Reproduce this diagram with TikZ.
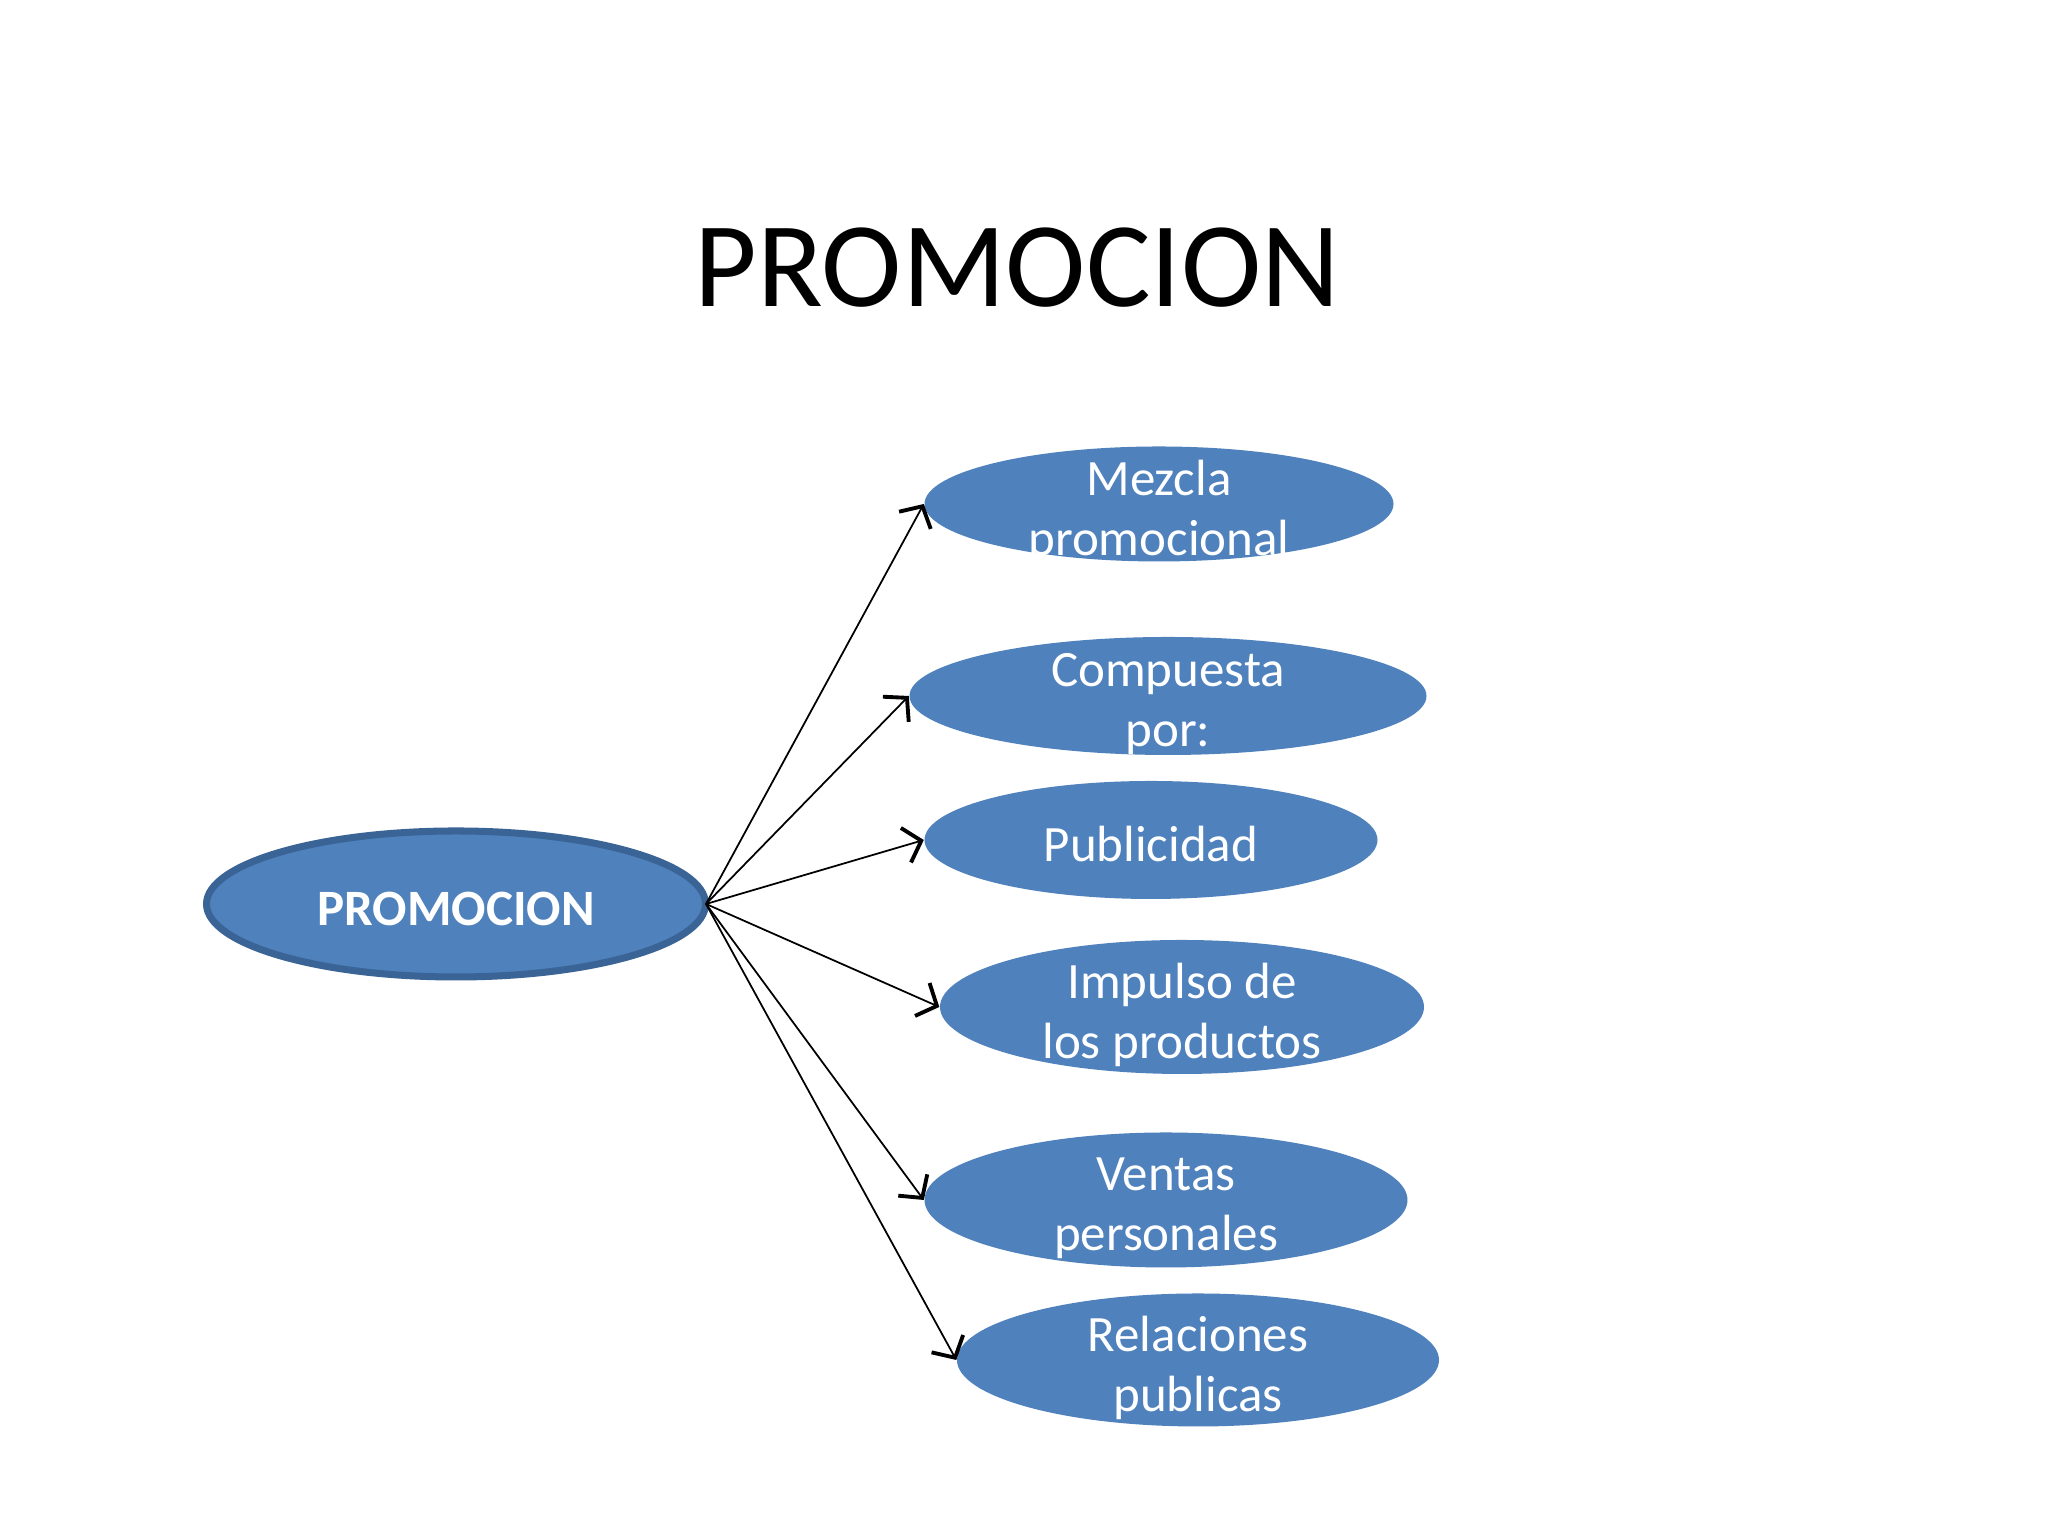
\documentclass[tikz,border=0pt]{standalone}
\usepackage{fontspec}
\setmainfont{Carlito}
\usepackage{xcolor}
\usepackage{tikz}
\usetikzlibrary{arrows.meta,shapes.geometric}
\definecolor{pblue}{HTML}{4F81BD}
\definecolor{pedge}{HTML}{3A6396}
\tikzset{
  hub/.style={ellipse, draw=pedge, line width=2pt, fill=pblue, inner sep=0pt,
              text=white, font=\fontsize{14.5}{17}\selectfont\bfseries},
  leaf/.style={ellipse, fill=pblue, inner sep=0pt},
  leaftext/.style={text=white, align=center, inner sep=0pt,
                   font=\fontsize{14.5}{17}\selectfont},
  flow/.style={-{Straight Barb[length=1.6mm,width=3.6mm,line width=1.1pt]},
               line width=0.5pt, draw=black}
}
\begin{document}
\begin{tikzpicture}
  \useasboundingbox[fill=white] (0,0) rectangle (20.48,15.36);
  \node[font=\fontsize{34.5}{40}\selectfont] (title) at (10.17,12.68) {PROMOCION};

  \node[hub, minimum width=4.99cm, minimum height=1.46cm] (promo) at (4.56,6.32) {};
  \node[text=white, font=\fontsize{14.5}{17}\selectfont\bfseries] (promo-t) at (4.56,6.27) {PROMOCION};

  \node[leaf, minimum width=4.69cm, minimum height=1.15cm] (mezcla)     at (11.59,10.32) {};
  \node[leaf, minimum width=5.17cm, minimum height=1.18cm] (compuesta)  at (11.68,8.40) {};
  \node[leaf, minimum width=4.53cm, minimum height=1.18cm] (publicidad) at (11.51,6.96) {};
  \node[leaf, minimum width=4.84cm, minimum height=1.34cm] (impulso)    at (11.82,5.29) {};
  \node[leaf, minimum width=4.83cm, minimum height=1.35cm] (ventas)     at (11.66,3.36) {};
  \node[leaf, minimum width=4.82cm, minimum height=1.33cm] (relaciones) at (11.98,1.76) {};

  \node[leaftext] (mezcla-t)     at ([yshift=-0.08cm]mezcla)     {Mezcla\\promocional};
  \node[leaftext] (compuesta-t)  at ([yshift=-0.08cm]compuesta)  {Compuesta\\por:};
  \node[leaftext] (publicidad-t) at ([yshift=-0.04cm]publicidad) {Publicidad};
  \node[leaftext] (impulso-t)    at ([yshift=-0.08cm]impulso)    {Impulso de\\los productos};
  \node[leaftext] (ventas-t)     at ([yshift=-0.08cm]ventas)     {Ventas\\personales};
  \node[leaftext] (relaciones-t) at ([yshift=-0.08cm]relaciones) {Relaciones\\publicas};

  \foreach \n in {mezcla,compuesta,publicidad,impulso,ventas,relaciones}
    \draw[flow] ([xshift=-0.03cm]promo.east) -- (\n.west);
\end{tikzpicture}
\end{document}
